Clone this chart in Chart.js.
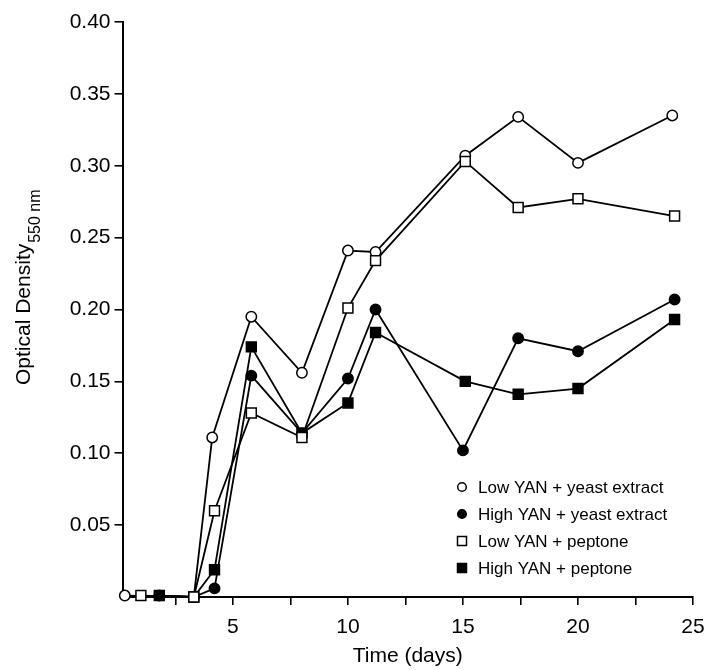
<!DOCTYPE html>
<html>
<head>
<meta charset="utf-8">
<script src="https://cdn.jsdelivr.net/npm/chart.js@4.4.0/dist/chart.umd.min.js"></script>
<style>
  html, body { margin: 0; padding: 0; background: #fff; }
  #wrap { width: 713px; height: 670px; }
</style>
</head>
<body>
<div id="wrap"><canvas id="od-chart" width="713" height="670"></canvas></div>
<script>
'use strict';

// ********** DATA **********

let seriesNames = ['Low YAN + yeast extract', 'High YAN + yeast extract', 'Low YAN + peptone', 'High YAN + peptone'];

let lowYeastDays = [0.3, 3.3, 4.1, 5.8, 8.0, 10.0, 11.2, 15.1, 17.4, 20.0, 24.1];
let lowYeastOD = [0.001, 0.000, 0.111, 0.195, 0.156, 0.241, 0.240, 0.307, 0.334, 0.302, 0.335];

let highYeastDays = [1.8, 3.3, 4.2, 5.8, 8.0, 10.0, 11.2, 15.0, 17.4, 20.0, 24.2];
let highYeastOD = [0.001, 0.000, 0.006, 0.154, 0.114, 0.152, 0.200, 0.102, 0.180, 0.171, 0.207];

let lowPeptoneDays = [1.0, 3.3, 4.2, 5.8, 8.0, 10.0, 11.2, 15.1, 17.4, 20.0, 24.2];
let lowPeptoneOD = [0.001, 0.000, 0.060, 0.128, 0.111, 0.201, 0.234, 0.303, 0.271, 0.277, 0.265];

let highPeptoneDays = [1.8, 3.3, 4.2, 5.8, 8.0, 10.0, 11.2, 15.1, 17.4, 20.0, 24.2];
let highPeptoneOD = [0.001, 0.000, 0.019, 0.174, 0.114, 0.135, 0.184, 0.150, 0.141, 0.145, 0.193];

let xTicks = [2.5, 5, 7.5, 10, 12.5, 15, 17.5, 20, 22.5, 25];
let yTicks = [0.05, 0.10, 0.15, 0.20, 0.25, 0.30, 0.35, 0.40];

// ********** HELPERS **********

const FONT = "'Liberation Sans', Arial, Helvetica, sans-serif";

function toPoints(days, values){
  let pts = [];
  for(let i=0;i<days.length;i++){
    pts.push({x: days[i], y: values[i]});
  }
  return pts;
}

function makeSet(label, days, values, shape, filled, order){
  return {
    label: label,
    data: toPoints(days, values),
    borderColor: '#000',
    borderWidth: 1.8,
    pointStyle: shape,
    pointRadius: shape === 'rect' ? 7 : 5.2,
    pointBorderWidth: 1.5,
    pointBorderColor: '#000',
    pointBackgroundColor: filled ? '#000' : '#fff',
    tension: 0,
    clip: false,
    order: order
  };
}

// y title with a subscript, drawn on the canvas
let yTitlePlugin = {
  id: 'yTitle',
  afterDraw(chart){
    let ctx = chart.ctx;
    ctx.save();
    ctx.fillStyle = '#000';
    ctx.textBaseline = 'alphabetic';
    ctx.textAlign = 'left';
    ctx.font = '21px ' + FONT;
    let main = 'Optical Density';
    let sub = '550 nm';
    let mainW = ctx.measureText(main).width;
    // text runs bottom to top, starting just above y = 385
    ctx.translate(30, 385);
    ctx.rotate(-Math.PI / 2);
    ctx.fillText(main, 0, 0);
    ctx.font = '16px ' + FONT;
    ctx.fillText(sub, mainW + 1, 10);
    ctx.restore();
  }
};

// legend inside the plot area, lower right
let legendPlugin = {
  id: 'innerLegend',
  afterDraw(chart){
    let ctx = chart.ctx;
    let sets = chart.data.datasets;
    ctx.save();
    ctx.font = '17px ' + FONT;
    ctx.textBaseline = 'middle';
    ctx.textAlign = 'left';
    for(let i=0;i<sets.length;i++){
      let ds = sets[i];
      let mx = 462;
      let my = 487 + i * 27;
      ctx.lineWidth = 1.5;
      ctx.strokeStyle = '#000';
      ctx.fillStyle = ds.pointBackgroundColor;
      ctx.beginPath();
      if(ds.pointStyle === 'rect'){
        ctx.rect(mx - 4.5, my - 4.5, 9, 9);
      }else{
        ctx.arc(mx, my, 4.3, 0, Math.PI * 2);
      }
      ctx.fill();
      ctx.stroke();
      ctx.fillStyle = '#000';
      ctx.fillText(ds.label, 478, my + 1);
    }
    ctx.restore();
  }
};

// ********** CHART **********

let ctx = document.getElementById('od-chart').getContext('2d');

let chartConfig = {
  type: 'line',
  data: {
    datasets: [
      makeSet(seriesNames[0], lowYeastDays, lowYeastOD, 'circle', false, 1),
      makeSet(seriesNames[1], highYeastDays, highYeastOD, 'circle', true, 1),
      makeSet(seriesNames[2], lowPeptoneDays, lowPeptoneOD, 'rect', false, 0),
      makeSet(seriesNames[3], highPeptoneDays, highPeptoneOD, 'rect', true, 1)
    ]
  },
  options: {
    responsive: false,
    animation: false,
    layout: { padding: { left: 0, top: 22, right: 20, bottom: 0 } },
    plugins: {
      legend: { display: false },
      tooltip: { enabled: false }
    },
    scales: {
      x: {
        type: 'linear',
        min: 0.2,
        max: 25,
        afterBuildTicks(scale){
          scale.ticks = xTicks.map(v => ({ value: v }));
        },
        afterFit(scale){
          scale.height = 73;
          scale.paddingLeft = 0;
          scale.paddingRight = 0;
        },
        grid: { drawOnChartArea: false, drawTicks: true, tickLength: 8, color: '#000', lineWidth: 1.6 },
        border: { display: true, color: '#000', width: 2 },
        ticks: {
          color: '#000',
          font: { family: FONT, size: 21 },
          padding: 10,
          maxRotation: 0,
          autoSkip: false,
          callback: v => (v % 5 === 0 ? String(v) : '')
        },
        title: {
          display: true,
          text: 'Time (days)',
          color: '#000',
          font: { family: FONT, size: 21 },
          padding: { top: 0, bottom: 1 }
        }
      },
      y: {
        min: 0,
        max: 0.40,
        afterBuildTicks(scale){
          scale.ticks = yTicks.map(v => ({ value: v }));
        },
        afterFit(scale){
          scale.width = 122.5;
          scale.paddingTop = 0;
          scale.paddingBottom = 0;
        },
        grid: { drawOnChartArea: false, drawTicks: true, tickLength: 8, color: '#000', lineWidth: 1.6 },
        border: { display: true, color: '#000', width: 2 },
        ticks: {
          color: '#000',
          font: { family: FONT, size: 21 },
          padding: 4,
          autoSkip: false,
          callback: v => v.toFixed(2)
        }
      }
    }
  },
  plugins: [yTitlePlugin, legendPlugin]
};

new Chart(ctx, chartConfig);
</script>
</body>
</html>
